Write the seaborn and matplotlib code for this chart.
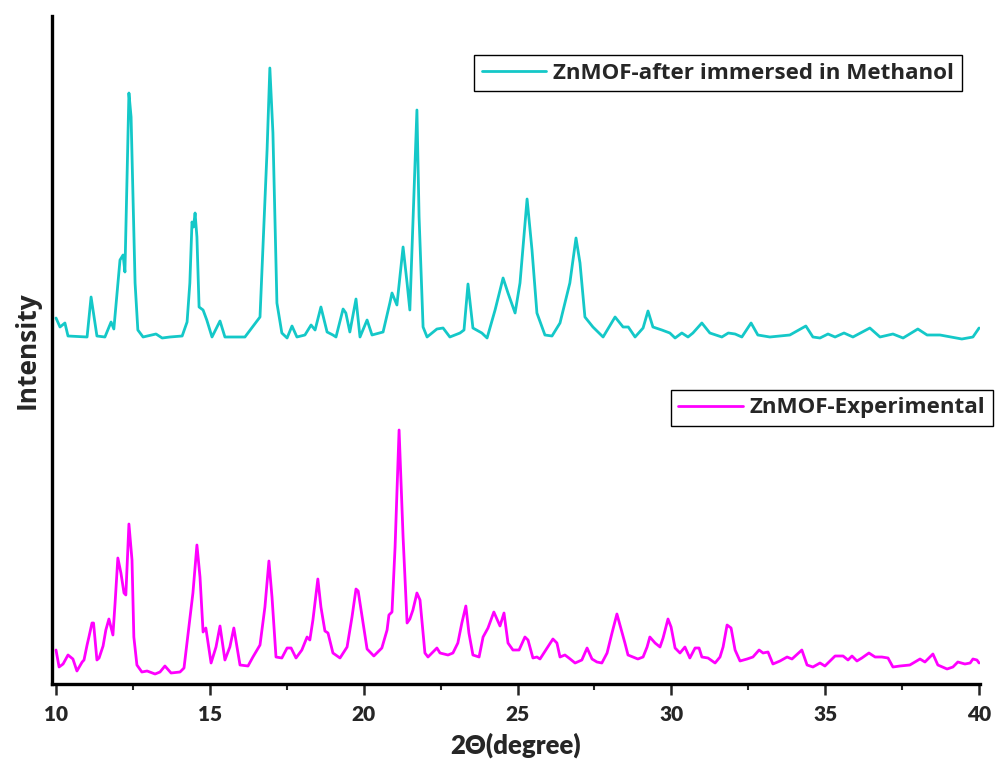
import matplotlib
matplotlib.use("Agg")
import matplotlib.pyplot as plt
import seaborn as sns
import pandas as pd
from matplotlib.ticker import MultipleLocator

# Powder XRD patterns (2-theta in degrees, intensity in arbitrary units)
methanol_2theta = [
    10.00, 10.13, 10.29, 10.39, 11.01, 11.14, 11.33, 11.59, 11.79, 11.88,
    12.08, 12.18, 12.24, 12.37, 12.44, 12.57, 12.66, 12.83, 13.25, 13.45,
    13.70, 14.10, 14.26, 14.35, 14.42, 14.47, 14.52, 14.58, 14.65, 14.78,
    14.90, 15.07, 15.33, 15.49, 16.14, 16.63, 16.86, 16.95, 17.05, 17.18,
    17.34, 17.51, 17.67, 17.83, 18.09, 18.29, 18.42, 18.61, 18.81, 19.00,
    19.10, 19.33, 19.42, 19.55, 19.75, 19.88, 20.11, 20.27, 20.63, 20.85,
    20.92, 21.08, 21.28, 21.41, 21.50, 21.73, 21.80, 21.93, 22.06, 22.38,
    22.58, 22.80, 23.13, 23.26, 23.39, 23.55, 23.84, 24.01, 24.27, 24.53,
    24.69, 24.92, 25.08, 25.31, 25.47, 25.63, 25.89, 26.12, 26.38, 26.70,
    26.90, 27.03, 27.19, 27.45, 27.78, 28.17, 28.43, 28.60, 28.82, 29.08,
    29.24, 29.40, 29.69, 29.95, 30.12, 30.34, 30.54, 30.70, 30.99, 31.25,
    31.64, 31.85, 32.07, 32.29, 32.59, 32.81, 33.20, 33.85, 34.37, 34.60,
    34.83, 35.09, 35.32, 35.61, 35.90, 36.45, 36.78, 37.20, 37.53, 38.01,
    38.31, 38.73, 39.44, 39.80, 40.00,
]
methanol_intensity = [
    46, 37, 41, 28, 27, 67, 28, 27, 42, 35,
    104, 109, 92, 271, 247, 81, 34, 27, 30, 26,
    27, 28, 42, 81, 142, 137, 151, 127, 57, 54,
    44, 27, 43, 27, 27, 47, 214, 296, 231, 61,
    31, 26, 38, 27, 29, 39, 34, 57, 32, 29,
    27, 55, 51, 32, 65, 27, 44, 29, 32, 61,
    71, 59, 117, 81, 54, 254, 147, 37, 27, 35,
    36, 27, 31, 34, 80, 36, 31, 26, 54, 86,
    71, 51, 81, 165, 114, 51, 29, 28, 41, 81,
    126, 101, 47, 37, 27, 47, 37, 37, 27, 36,
    53, 37, 34, 31, 26, 31, 27, 31, 41, 31,
    27, 31, 30, 27, 41, 29, 27, 29, 38, 27,
    26, 30, 27, 31, 27, 36, 27, 30, 26, 35,
    29, 29, 25, 27, 36,
]

experimental_2theta = [
    10.00, 10.10, 10.23, 10.39, 10.55, 10.68, 10.85, 10.91, 11.01, 11.07,
    11.17, 11.22, 11.33, 11.40, 11.53, 11.62, 11.72, 11.85, 11.92, 12.01,
    12.11, 12.21, 12.27, 12.37, 12.47, 12.53, 12.63, 12.79, 12.96, 13.22,
    13.38, 13.54, 13.74, 14.03, 14.16, 14.32, 14.45, 14.58, 14.68, 14.78,
    14.87, 15.04, 15.20, 15.33, 15.49, 15.65, 15.78, 15.98, 16.24, 16.40,
    16.63, 16.79, 16.92, 17.02, 17.15, 17.34, 17.51, 17.64, 17.80, 17.99,
    18.16, 18.25, 18.35, 18.51, 18.61, 18.74, 18.84, 19.00, 19.23, 19.46,
    19.62, 19.75, 19.82, 19.98, 20.11, 20.33, 20.59, 20.76, 20.82, 20.92,
    21.02, 21.15, 21.28, 21.41, 21.50, 21.60, 21.73, 21.83, 21.99, 22.09,
    22.25, 22.38, 22.48, 22.74, 22.90, 23.06, 23.19, 23.32, 23.42, 23.55,
    23.75, 23.88, 24.04, 24.23, 24.43, 24.56, 24.69, 24.85, 25.05, 25.24,
    25.34, 25.50, 25.63, 25.73, 25.96, 26.15, 26.28, 26.38, 26.54, 26.67,
    26.87, 27.09, 27.26, 27.42, 27.58, 27.74, 27.91, 28.07, 28.23, 28.33,
    28.49, 28.59, 28.75, 28.91, 29.08, 29.21, 29.30, 29.47, 29.63, 29.73,
    29.89, 29.99, 30.12, 30.28, 30.44, 30.60, 30.77, 30.90, 30.99, 31.19,
    31.42, 31.58, 31.68, 31.81, 31.94, 32.07, 32.23, 32.46, 32.65, 32.85,
    32.98, 33.14, 33.30, 33.53, 33.76, 33.92, 34.24, 34.41, 34.60, 34.83,
    34.99, 35.32, 35.58, 35.74, 35.87, 36.03, 36.19, 36.42, 36.62, 36.84,
    37.04, 37.20, 37.43, 37.75, 38.08, 38.24, 38.50, 38.66, 38.96, 39.15,
    39.31, 39.54, 39.71, 39.80, 39.93, 40.00,
]
experimental_intensity = [
    34, 17, 20, 29, 25, 13, 22, 24, 39, 47,
    61, 61, 24, 26, 38, 54, 65, 49, 81, 126,
    111, 91, 89, 160, 124, 47, 19, 12, 13, 10,
    12, 18, 11, 12, 16, 57, 91, 139, 107, 52,
    56, 21, 37, 58, 24, 37, 56, 19, 18, 27,
    39, 77, 123, 87, 27, 26, 36, 36, 26, 34,
    47, 44, 64, 105, 77, 53, 51, 31, 26, 37,
    67, 95, 93, 61, 35, 28, 36, 54, 69, 72,
    137, 254, 147, 61, 65, 74, 91, 84, 31, 27,
    32, 36, 31, 29, 31, 41, 61, 78, 51, 29,
    27, 47, 56, 72, 58, 71, 41, 34, 34, 47,
    44, 26, 27, 25, 36, 45, 41, 27, 29, 26,
    21, 24, 36, 25, 22, 21, 31, 51, 70, 59,
    41, 29, 27, 25, 27, 37, 47, 41, 37, 46,
    65, 57, 36, 31, 37, 26, 36, 36, 27, 26,
    21, 27, 37, 59, 56, 34, 23, 25, 27, 34,
    31, 32, 20, 23, 27, 25, 34, 19, 17, 21,
    18, 28, 28, 24, 28, 23, 26, 31, 27, 27,
    26, 17, 18, 19, 25, 22, 30, 19, 15, 17,
    22, 20, 21, 25, 24, 21,
]

series_labels = ["ZnMOF-after immersed in Methanol", "ZnMOF-Experimental"]
stack_offset = 320  # vertical shift of the upper pattern

methanol = pd.DataFrame({"two_theta": methanol_2theta,
                         "intensity": [v + stack_offset for v in methanol_intensity]})
experimental = pd.DataFrame({"two_theta": experimental_2theta,
                             "intensity": experimental_intensity})

sns.set_style("ticks")
plt.rcParams["font.family"] = ["Open Sans", "DejaVu Sans"]
plt.rcParams["font.weight"] = "bold"

fig = plt.figure(figsize=(9.98, 7.70), dpi=100)
ax = fig.add_axes([52 / 998, 86 / 770, 928 / 998, 668 / 770])

cyan = "#14C8C8"
magenta = "#FF00FF"
sns.lineplot(data=methanol, x="two_theta", y="intensity", ax=ax, color=cyan,
             linewidth=2.0, estimator=None, sort=False)
sns.lineplot(data=experimental, x="two_theta", y="intensity", ax=ax, color=magenta,
             linewidth=2.0, estimator=None, sort=False)
line_meth, line_exp = ax.get_lines()[0], ax.get_lines()[1]
for ln in (line_meth, line_exp):
    ln.set_solid_joinstyle("round")
    ln.set_solid_capstyle("round")

ax.set_xlim(9.87, 40.03)
ax.set_ylim(0, 668)
ax.xaxis.set_major_locator(MultipleLocator(5))
ax.xaxis.set_minor_locator(MultipleLocator(2.5))
ax.set_yticks([])

for side in ("top", "right"):
    ax.spines[side].set_visible(False)
for side in ("left", "bottom"):
    ax.spines[side].set_linewidth(2.4)
    ax.spines[side].set_color("black")

axis_font = ["Lato", "Open Sans", "DejaVu Sans"]
ax.tick_params(axis="x", which="major", direction="out", length=8, width=1.8,
               pad=7, labelsize=15)
ax.tick_params(axis="x", which="minor", direction="out", length=4.5, width=1.5)
for lbl in ax.get_xticklabels():
    lbl.set_fontfamily(axis_font)
    lbl.set_fontweight("heavy")

ax.set_xlabel("2Θ(degree)", fontsize=18.5, fontweight="heavy", labelpad=6,
              family=axis_font)
ax.set_ylabel("Intensity", fontsize=19, fontweight="bold", labelpad=8)

legend_kw = dict(frameon=True, fancybox=False, framealpha=1, edgecolor="black",
                 borderaxespad=0, borderpad=0.34, handlelength=2.9,
                 handletextpad=0.3, bbox_transform=fig.transFigure,
                 prop={"family": ["Open Sans", "DejaVu Sans"], "weight": "bold", "size": 16.1})

leg1 = ax.legend([line_meth], [series_labels[0]], loc="upper left",
                 bbox_to_anchor=(474 / 998, 1 - 55 / 770), **legend_kw)
leg1.get_frame().set_linewidth(1.0)
ax.add_artist(leg1)
leg2 = ax.legend([line_exp], [series_labels[1]], loc="lower right",
                 bbox_to_anchor=(993 / 998, 1 - 426 / 770), **legend_kw)
leg2.get_frame().set_linewidth(1.0)

fig.savefig("out.png", dpi=100)
